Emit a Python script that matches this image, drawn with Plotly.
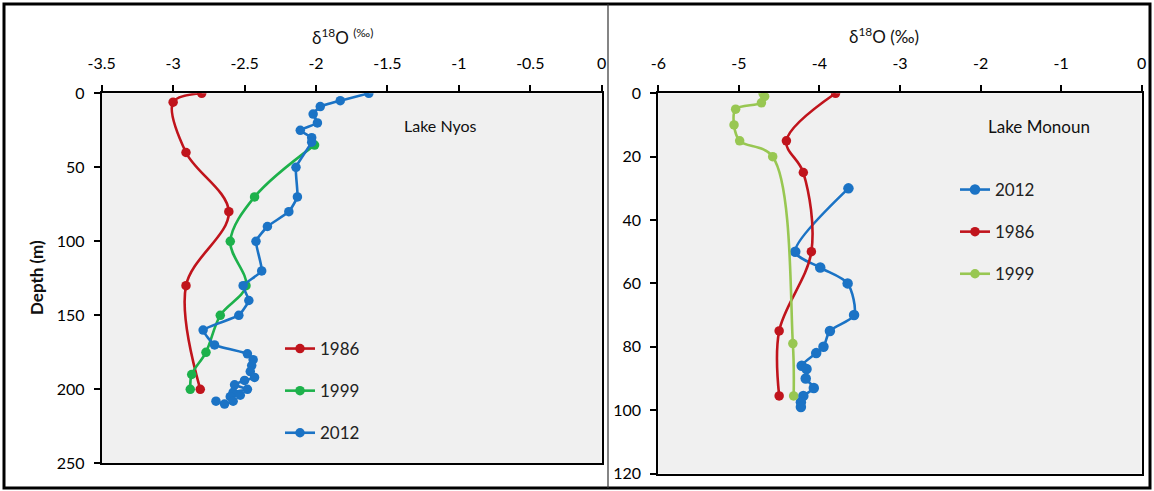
import plotly.graph_objects as go

W, H = 1154, 491

# ---------------- data: Lake Nyos ----------------
nyos_1986_d18o = [-2.80, -3.00, -2.91, -2.61, -2.91, -2.81]
nyos_1986_depth = [0, 6, 40, 80, 130, 200]

nyos_1999_d18o = [-2.01, -2.43, -2.60, -2.49, -2.67, -2.77, -2.87, -2.88]
nyos_1999_depth = [35, 70, 100, 130, 150, 175, 190, 200]

nyos_2012_d18o = [-1.63, -1.83, -1.97, -2.02, -1.99, -2.11, -2.03, -2.03, -2.14, -2.13,
                  -2.19, -2.34, -2.42, -2.38, -2.51, -2.47, -2.54, -2.79, -2.71, -2.48,
                  -2.44, -2.45, -2.46, -2.43, -2.50, -2.57, -2.48, -2.58, -2.53, -2.60,
                  -2.58, -2.64, -2.70]
nyos_2012_depth = [0, 5, 9, 14, 20, 25, 30, 33, 50, 70,
                   80, 90, 100, 120, 130, 140, 150, 160, 170, 176,
                   180, 184, 188, 192, 194, 197, 200, 202, 204, 205,
                   208, 210, 208]

# ---------------- data: Lake Monoun ----------------
monoun_2012_d18o = [-3.64, -4.30, -3.99, -3.65, -3.57, -3.87, -3.95, -4.04, -4.22, -4.16,
                    -4.17, -4.07, -4.20, -4.23, -4.23]
monoun_2012_depth = [30, 50, 55, 60, 70, 75, 80, 82, 86, 87,
                     90, 93, 95.5, 97.5, 99]

monoun_1986_d18o = [-3.80, -4.41, -4.20, -4.10, -4.50, -4.50]
monoun_1986_depth = [0, 15, 25, 50, 75, 95.5]

monoun_1999_d18o = [-4.70, -4.68, -4.72, -5.04, -5.06, -4.99, -4.58, -4.33, -4.32]
monoun_1999_depth = [0, 1, 3, 5, 10, 15, 20, 79, 95.5]

# ---------------- tick labels ----------------
nyos_xticks = [-3.5, -3, -2.5, -2, -1.5, -1, -0.5, 0]
nyos_xticklabels = ["-3.5", "-3", "-2.5", "-2", "-1.5", "-1", "-0.5", "0"]
nyos_yticks = [0, 50, 100, 150, 200, 250]
monoun_xticks = [-6, -5, -4, -3, -2, -1, 0]
monoun_xticklabels = ["-6", "-5", "-4", "-3", "-2", "-1", "0"]
monoun_yticks = [0, 20, 40, 60, 80, 100, 120]

RED = "#C0141C"
GREEN = "#1DB14B"
BLUE = "#1B73C5"
LGREEN = "#98C752"

FONT = "Lato"


def px_x(p):
    return p / W


def px_y(p):
    return 1 - p / H


fig = go.Figure()


def add(x, y, name, color, xa, ya, legend, smoothing=1.0, msize=9.5, width=2.6):
    fig.add_trace(go.Scatter(
        x=x, y=y, name=name, mode="lines+markers",
        line=dict(color=color, width=width, shape="spline", smoothing=smoothing),
        marker=dict(color=color, size=msize),
        xaxis=xa, yaxis=ya, legend=legend, legendgroup=legend + name,
    ))


add(nyos_1986_d18o, nyos_1986_depth, "1986", RED, "x", "y", "legend")
add(nyos_1999_d18o, nyos_1999_depth, "1999", GREEN, "x", "y", "legend")
add(nyos_2012_d18o, nyos_2012_depth, "2012", BLUE, "x", "y", "legend", smoothing=0.4)

add(monoun_2012_d18o, monoun_2012_depth, "2012", BLUE, "x2", "y2", "legend2", smoothing=0.8, msize=10.5)
add(monoun_1986_d18o, monoun_1986_depth, "1986", RED, "x2", "y2", "legend2")
add(monoun_1999_d18o, monoun_1999_depth, "1999", LGREEN, "x2", "y2", "legend2")

axis_common = dict(
    showline=True, linecolor="black", linewidth=2, mirror=True,
    ticks="outside", ticklen=6, tickwidth=1.5, tickcolor="black",
    showgrid=False, zeroline=False, automargin=False,
    tickfont=dict(family=FONT, size=16, color="#000"),
)

fig.update_layout(
    width=W, height=H,
    margin=dict(l=0, r=0, t=0, b=0),
    paper_bgcolor="white",
    plot_bgcolor="#F0F0F0",
    font=dict(family=FONT, color="#111"),
    xaxis=dict(domain=[px_x(101.7), px_x(601.7)], range=[-3.5, 0], side="top",
               tickvals=nyos_xticks, ticktext=nyos_xticklabels, anchor="y",
               ticklabelstandoff=10, **axis_common),
    yaxis=dict(domain=[px_y(463.3), px_y(93.3)], range=[250, 0],
               tickvals=nyos_yticks, anchor="x", ticklabelstandoff=6, **axis_common),
    xaxis2=dict(domain=[px_x(658.3), px_x(1141.7)], range=[-6, 0], side="top",
                tickvals=monoun_xticks, ticktext=monoun_xticklabels, anchor="y2",
                ticklabelstandoff=10, **axis_common),
    yaxis2=dict(domain=[px_y(473.5), px_y(93.3)], range=[120, 0],
                tickvals=monoun_yticks, anchor="x2", ticklabelstandoff=6, **axis_common),
    legend=dict(x=px_x(280), y=px_y(331), xanchor="left", yanchor="top",
                bgcolor="rgba(0,0,0,0)", font=dict(family=FONT, size=17, color="#222"),
                tracegroupgap=17, itemwidth=30),
    legend2=dict(x=px_x(955), y=px_y(172), xanchor="left", yanchor="top",
                 bgcolor="rgba(0,0,0,0)", font=dict(family=FONT, size=17, color="#222"),
                 tracegroupgap=17, itemwidth=30),
)

# axis titles and panel labels
fig.add_annotation(text="δ<sup>18</sup>O <sup>(‰)</sup>", xref="paper", yref="paper",
                   x=px_x(342), y=px_y(36), xanchor="center", yanchor="middle",
                   showarrow=False, font=dict(family=FONT, size=17, color="#111"))
fig.add_annotation(text="δ<sup>18</sup>O (‰)", xref="paper", yref="paper",
                   x=px_x(884), y=px_y(35), xanchor="center", yanchor="middle",
                   showarrow=False, font=dict(family=FONT, size=17, color="#111"))
fig.add_annotation(text="<b>Depth (m)</b>", xref="paper", yref="paper",
                   x=px_x(36), y=px_y(278), xanchor="center", yanchor="middle",
                   showarrow=False, textangle=-90,
                   font=dict(family=FONT, size=17, color="#111"))
fig.add_annotation(text="Lake Nyos", xref="x", yref="y", x=-1.395, y=21.5,
                   xanchor="left", yanchor="middle", showarrow=False,
                   font=dict(family=FONT, size=16, color="#111"))
fig.add_annotation(text="Lake Monoun", xref="x2", yref="y2", x=-1.93, y=10.5,
                   xanchor="left", yanchor="middle", showarrow=False,
                   font=dict(family=FONT, size=17, color="#111"))

# outer frame and separator
fig.add_shape(type="rect", xref="paper", yref="paper",
              x0=px_x(4), x1=px_x(1150), y0=px_y(488), y1=px_y(4),
              line=dict(color="black", width=3))
fig.add_shape(type="line", xref="paper", yref="paper",
              x0=px_x(608), x1=px_x(608), y0=px_y(488), y1=px_y(4),
              line=dict(color="#333", width=1.2))

fig.write_html("out.html")
